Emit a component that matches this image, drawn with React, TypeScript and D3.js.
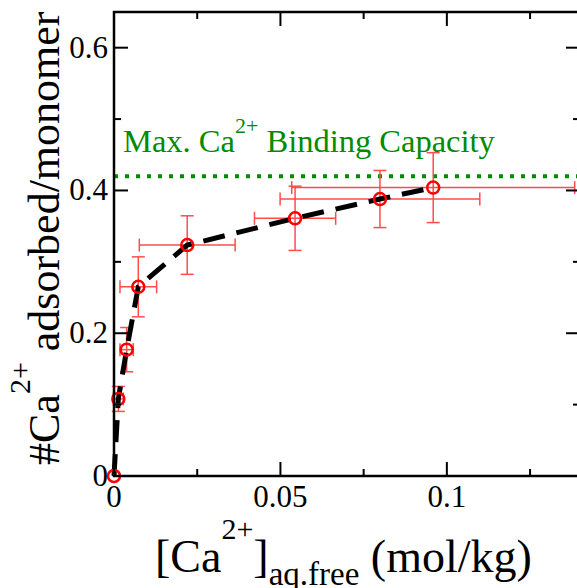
import React from "react";
import * as d3 from "d3";

const concX = [0, 0.0013, 0.0038, 0.0073, 0.022, 0.0544, 0.0799, 0.0959];
const adsorbedY = [0, 0.108, 0.177, 0.265, 0.3235, 0.361, 0.388, 0.404];
const errX = [0, 0.0015, 0.002, 0.0055, 0.0144, 0.0122, 0.03, 0.0425];
const errY = [0, 0.0175, 0.031, 0.042, 0.041, 0.045, 0.04, 0.049];
const maxCapacity = 0.42;
const xMajorTicks = [0, 0.05, 0.1];
const xTickLabels = ["0", "0.05", "0.1"];
const xMinorTicks = [0.025, 0.075, 0.125];
const yMajorTicks = [0, 0.2, 0.4, 0.6];
const yTickLabels = ["0", "0.2", "0.4", "0.6"];
const yMinorTicks = [0.1, 0.3, 0.5];

const W = 577;
const H = 588;
const left = 114;
const top = 12;
const right = 580;
const bottom = 476;
const FONT = "'Liberation Serif', 'Times New Roman', serif";

export default function App() {
  const x = d3.scaleLinear().domain([0, 0.14]).range([left, right]);
  const y = d3.scaleLinear().domain([0, 0.65]).range([bottom, top]);
  const pts = concX.map((c, i) => ({ x: c, y: adsorbedY[i], ex: errX[i], ey: errY[i] }));
  const line = d3
    .line<{ x: number; y: number }>()
    .x((d) => x(d.x))
    .y((d) => y(d.y));
  const cap = 6.5;
  const errColor = "#ff4d4d";
  const major = 14;
  const minor = 7;

  return (
    <svg
      width={W}
      height={H}
      style={{ position: "absolute", left: 0, top: 0, background: "#fff" }}
      fontFamily={FONT}
    >
      <rect x={0} y={0} width={W} height={H} fill="#fff" />
      {/* green max capacity line */}
      <line
        x1={x(0)}
        x2={x(0.14)}
        y1={y(maxCapacity)}
        y2={y(maxCapacity)}
        stroke="#008b00"
        strokeWidth={4}
        strokeDasharray="4 7"
      />
      <text x={x(0) + 9} y={y(maxCapacity) - 24} fontSize={32.5} fill="#008b00">
        Max. Ca
        <tspan fontSize={22} dy={-19}>2+</tspan>
        <tspan dy={19}> Binding Capacity</tspan>
      </text>

      {/* error bars */}
      <g stroke={errColor} strokeWidth={1.5} fill="none">
        {pts.map((p, i) =>
          p.ex === 0 && p.ey === 0 ? null : (
            <g key={i}>
              <line x1={x(p.x)} x2={x(p.x)} y1={y(p.y - p.ey)} y2={y(p.y + p.ey)} />
              <line x1={x(p.x) - cap} x2={x(p.x) + cap} y1={y(p.y + p.ey)} y2={y(p.y + p.ey)} />
              <line x1={x(p.x) - cap} x2={x(p.x) + cap} y1={y(p.y - p.ey)} y2={y(p.y - p.ey)} />
              <line x1={x(p.x - p.ex)} x2={x(p.x + p.ex)} y1={y(p.y)} y2={y(p.y)} />
              <line x1={x(p.x - p.ex)} x2={x(p.x - p.ex)} y1={y(p.y) - cap} y2={y(p.y) + cap} />
              <line x1={x(p.x + p.ex)} x2={x(p.x + p.ex)} y1={y(p.y) - cap} y2={y(p.y) + cap} />
            </g>
          )
        )}
      </g>

      {/* dashed curve */}
      <path
        d={line(pts) || ""}
        fill="none"
        stroke="#000"
        strokeWidth={5}
        strokeDasharray="22 12"
      />

      {/* markers */}
      {pts.map((p, i) => (
        <circle key={i} cx={x(p.x)} cy={y(p.y)} r={6} fill="none" stroke="#ff0000" strokeWidth={2.5} />
      ))}

      {/* frame */}
      <rect
        x={left}
        y={top}
        width={right - left}
        height={bottom - top}
        fill="none"
        stroke="#000"
        strokeWidth={2.5}
      />
      <g stroke="#000" strokeWidth={2}>
        {xMajorTicks.map((t) => (
          <g key={"xM" + t}>
            <line x1={x(t)} x2={x(t)} y1={bottom} y2={bottom - major} />
            <line x1={x(t)} x2={x(t)} y1={top} y2={top + major} />
          </g>
        ))}
        {xMinorTicks.map((t) => (
          <g key={"xm" + t}>
            <line x1={x(t)} x2={x(t)} y1={bottom} y2={bottom - minor} />
            <line x1={x(t)} x2={x(t)} y1={top} y2={top + minor} />
          </g>
        ))}
        {yMajorTicks.map((t) => (
          <g key={"yM" + t}>
            <line x1={left} x2={left + major} y1={y(t)} y2={y(t)} />
            <line x1={right} x2={right - major} y1={y(t)} y2={y(t)} />
          </g>
        ))}
        {yMinorTicks.map((t) => (
          <g key={"ym" + t}>
            <line x1={left} x2={left + minor} y1={y(t)} y2={y(t)} />
            <line x1={right} x2={right - minor} y1={y(t)} y2={y(t)} />
          </g>
        ))}
      </g>

      {/* tick labels */}
      {xMajorTicks.map((t, i) => (
        <text key={"xl" + t} x={x(t)} y={bottom + 31} fontSize={31} textAnchor="middle" fill="#000">
          {xTickLabels[i]}
        </text>
      ))}
      {yMajorTicks.map((t, i) => (
        <text key={"yl" + t} x={left - 6} y={y(t) + 10} fontSize={31} textAnchor="end" fill="#000">
          {yTickLabels[i]}
        </text>
      ))}

      {/* axis titles */}
      <text x={155} y={572} fontSize={46} fill="#000">
        [Ca
        <tspan fontSize={30} dy={-33}>2+</tspan>
        <tspan dy={33}>]</tspan>
        <tspan fontSize={33} dy={13}>aq.free</tspan>
        <tspan dy={-13}> (mol/kg)</tspan>
      </text>
      <text transform="translate(59,465) rotate(-90)" fontSize={44} fill="#000">
        #Ca
        <tspan fontSize={30} dy={-29}>2+</tspan>
        <tspan dy={29}> adsorbed/monomer</tspan>
      </text>
    </svg>
  );
}
